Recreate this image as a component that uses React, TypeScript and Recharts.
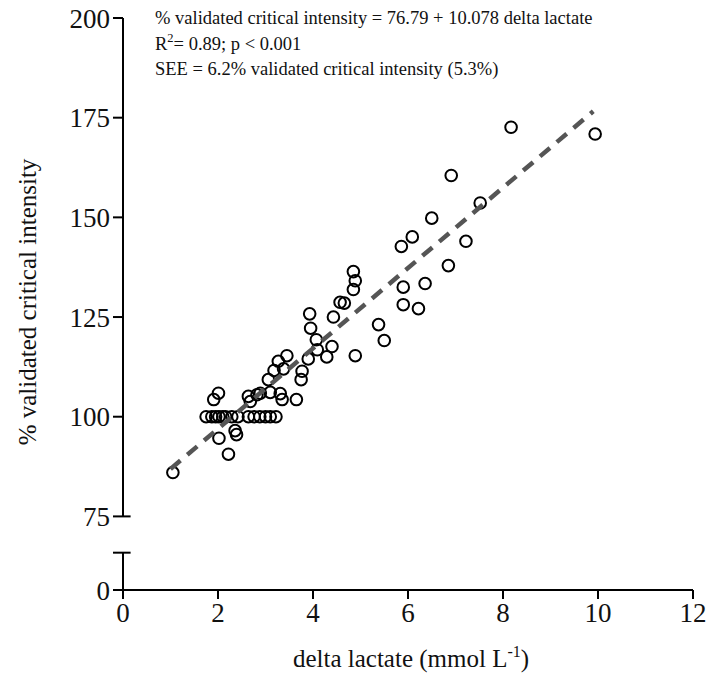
import React from 'react';
import { ScatterChart, Scatter, XAxis, YAxis, ReferenceLine, Customized } from 'recharts';

const FONT = '"Liberation Serif", "Times New Roman", serif';

// lower part of the broken y axis: this value is drawn as "0"
const Y_ZERO = 56.54;
const BREAK_TOP = 65.9;

const X_TICKS = [0, 2, 4, 6, 8, 10, 12];
const Y_TICKS = [Y_ZERO, 75, 100, 125, 150, 175, 200];

// delta lactate (mmol/L) and % validated critical intensity
const LACTATE = [
  1.05, 2.22, 2.02, 2.36, 2.39,
  1.75, 1.87, 1.95, 2.02, 2.1, 2.16, 2.29, 2.42, 2.64, 2.76, 2.88, 3.0, 3.1, 3.22,
  2.01, 1.91, 2.64, 2.68, 2.82, 2.89, 3.06, 3.1, 3.31, 3.35, 3.65,
  3.18, 3.38, 3.27, 3.45, 3.77, 3.75, 3.9, 4.09, 4.29, 4.4, 4.07, 3.95, 3.93, 4.43,
  4.57, 4.66, 4.85, 4.89, 4.85, 4.89, 5.38, 5.5, 5.9, 5.9, 6.22, 6.36,
  5.86, 6.09, 6.5, 6.85, 7.22, 6.91, 7.52, 8.17, 9.94,
];
const INTENSITY = [
  86.0, 90.6, 94.6, 96.5, 95.5,
  100, 100, 100, 100, 100, 100, 100, 100, 100, 100, 100, 100, 100, 100,
  105.9, 104.3, 105.1, 103.8, 105.5, 105.9, 109.3, 106.1, 105.8, 104.3, 104.3,
  111.6, 112.0, 113.9, 115.3, 111.4, 109.3, 114.5, 116.8, 115.0, 117.6, 119.3, 122.2, 125.8, 125.0,
  128.7, 128.5, 136.4, 134.1, 131.9, 115.3, 123.1, 119.1, 132.5, 128.1, 127.1, 133.4,
  142.7, 145.1, 149.8, 137.9, 144.0, 160.5, 153.6, 172.6, 170.9,
];

// ends of the dashed regression line
const FIT_X = [1.0, 9.9];
const FIT_Y = [86.9, 176.6];

const points = LACTATE.map((x, i) => ({ x, y: INTENSITY[i] }));
const fit = FIT_X.map((x, i) => ({ x, y: FIT_Y[i] }));

const Ring = (p: any) => (
  <circle cx={p.cx} cy={p.cy} r={5.8} fill="none" stroke="#000" strokeWidth={2} />
);

const serif = (size: number) => ({ fontFamily: FONT, fontSize: size, fill: '#111' });

const Texts = () => (
  <g>
    <text x={155} y={24} style={serif(18.5)}>
      % validated critical intensity = 76.79 + 10.078 delta lactate
    </text>
    <text x={155} y={50} style={serif(18.5)}>
      R<tspan dy={-8} style={{ fontSize: 12.5 }}>2</tspan>
      <tspan dy={8}>= 0.89; p &lt; 0.001</tspan>
    </text>
    <text x={155} y={75} style={serif(18.5)}>
      SEE = 6.2% validated critical intensity (5.3%)
    </text>
    <text x={411} y={667} textAnchor="middle" style={serif(25)}>
      delta lactate (mmol L<tspan dy={-10} style={{ fontSize: 16 }}>-1</tspan>
      <tspan dy={10}>)</tspan>
    </text>
    <text transform="translate(36, 302) rotate(-90)" textAnchor="middle" style={serif(25)}>
      % validated critical intensity
    </text>
  </g>
);

const axisSeg = { stroke: '#000', strokeWidth: 2, ifOverflow: 'visible' as const };

export default function App() {
  return (
    <div style={{ position: 'absolute', left: 0, top: 0, background: '#fff' }}>
      <ScatterChart width={712} height={688} margin={{ top: 18, right: 19, left: 0, bottom: 0 }}>
        <XAxis
          type="number"
          dataKey="x"
          domain={[0, 12]}
          ticks={X_TICKS}
          tickSize={9}
          tickMargin={4}
          height={98}
          axisLine={{ stroke: '#000', strokeWidth: 2 }}
          tickLine={{ stroke: '#000', strokeWidth: 2 }}
          tick={{ fontFamily: FONT, fontSize: 27, fill: '#111' }}
        />
        <YAxis
          type="number"
          dataKey="y"
          domain={[Y_ZERO, 200]}
          ticks={Y_TICKS}
          tickFormatter={(v: number) => (v < 75 ? '0' : String(v))}
          tickSize={10}
          tickMargin={3}
          width={123}
          axisLine={false}
          tickLine={{ stroke: '#000', strokeWidth: 2 }}
          tick={{ fontFamily: FONT, fontSize: 27, fill: '#111' }}
        />
        <ReferenceLine segment={[{ x: 0, y: 75 }, { x: 0, y: 200 }]} {...axisSeg} />
        <ReferenceLine segment={[{ x: 0, y: Y_ZERO }, { x: 0, y: BREAK_TOP }]} {...axisSeg} />
        <ReferenceLine segment={[{ x: -0.21, y: BREAK_TOP }, { x: 0.16, y: BREAK_TOP }]} {...axisSeg} />
        <ReferenceLine segment={[{ x: 0, y: 75 }, { x: 0.16, y: 75 }]} {...axisSeg} />
        <Scatter data={points} shape={Ring} isAnimationActive={false} />
        <Scatter
          data={fit}
          shape={() => <g />}
          line={{ stroke: '#555', strokeWidth: 4.5, strokeDasharray: '13 9' }}
          isAnimationActive={false}
        />
        <Customized component={Texts} />
      </ScatterChart>
    </div>
  );
}
